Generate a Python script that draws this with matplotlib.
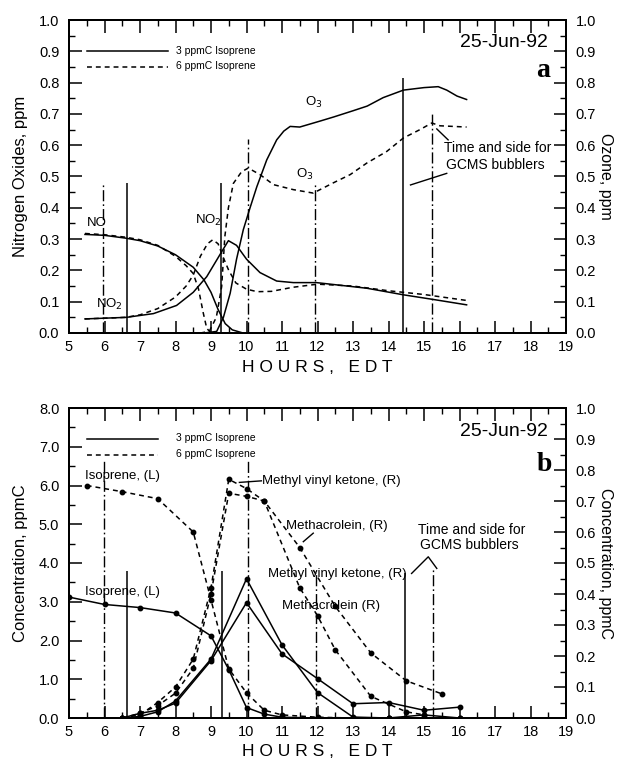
import matplotlib
matplotlib.use("Agg")
import matplotlib.pyplot as plt
from matplotlib.ticker import MultipleLocator, FormatStrFormatter

plt.rcParams['font.family'] = ['Liberation Sans', 'DejaVu Sans']

# ---------------- Panel a data (hours EDT, ppm) ----------------
no_3_t = [5.45, 6.0, 6.6, 7.0, 7.5, 8.0, 8.5, 8.8, 9.0, 9.2, 9.4, 9.6, 9.9, 10.3]
no_3 = [0.315, 0.312, 0.303, 0.295, 0.278, 0.25, 0.21, 0.17, 0.13, 0.075, 0.03, 0.01, 0.0, 0.0]
no_6_t = [5.45, 6.0, 6.6, 7.0, 7.5, 8.0, 8.3, 8.5, 8.65, 8.78, 8.88, 9.0]
no_6 = [0.318, 0.314, 0.306, 0.298, 0.28, 0.245, 0.215, 0.19, 0.14, 0.065, 0.015, 0.0]

no2_3_t = [5.45, 6.62, 7.38, 8.03, 8.5, 8.88, 9.25, 9.49, 9.72, 10.0, 10.38, 10.85, 11.32,
           11.97, 13.39, 14.42, 15.27, 16.2]
no2_3 = [0.045, 0.05, 0.062, 0.088, 0.13, 0.18, 0.25, 0.295, 0.28, 0.236, 0.193, 0.166, 0.161,
         0.161, 0.143, 0.122, 0.107, 0.09]
no2_6_t = [5.45, 6.6, 7.0, 7.5, 8.0, 8.3, 8.5, 8.7, 8.9, 9.05, 9.2, 9.35, 9.5, 9.7, 10.0,
           10.3, 10.7, 11.3, 12.0, 13.0, 14.0, 15.0, 16.2]
no2_6 = [0.045, 0.05, 0.058, 0.078, 0.115, 0.15, 0.185, 0.245, 0.285, 0.298, 0.285, 0.24,
         0.2, 0.16, 0.14, 0.132, 0.133, 0.146, 0.156, 0.15, 0.135, 0.123, 0.104]

o3_3_t = [8.8, 9.16, 9.35, 9.54, 9.72, 9.91, 10.1, 10.29, 10.57, 10.85, 11.05, 11.23, 11.5,
          12.07, 12.45, 13.0, 13.4, 13.85, 14.42, 15.0, 15.4, 15.64, 15.93, 16.2]
o3_3 = [0.0, 0.005, 0.05, 0.127, 0.236, 0.33, 0.40, 0.467, 0.553, 0.617, 0.645, 0.66, 0.658,
        0.677, 0.69, 0.71, 0.725, 0.752, 0.776, 0.784, 0.787, 0.776, 0.757, 0.746]
o3_6_t = [8.7, 8.95, 9.15, 9.3, 9.39, 9.49, 9.63, 9.86, 10.05, 10.38, 10.76, 11.32, 11.88,
          12.45, 12.92, 13.39, 13.95, 14.42, 14.89, 15.22, 15.45, 16.2]
o3_6 = [0.0, 0.005, 0.05, 0.148, 0.308, 0.40, 0.478, 0.515, 0.527, 0.506, 0.474, 0.458, 0.447,
        0.48, 0.506, 0.543, 0.58, 0.623, 0.65, 0.671, 0.662, 0.658]

# GCMS bubbler sampling times (panel a): (time, top in ppm)
a_solid_t = [6.62, 9.28, 14.42]
a_solid_top = [0.48, 0.48, 0.815]
a_dd_t = [5.95, 10.05, 11.93, 15.22]
a_dd_top = [0.48, 0.62, 0.48, 0.705]

# ---------------- Panel b data ----------------
iso_3_t = [5.0, 6.0, 7.0, 8.0, 9.0, 9.5, 10.0, 10.5, 11.0, 12.0, 13.0, 14.0, 15.0, 16.0]
iso_3 = [3.12, 2.93, 2.85, 2.71, 2.12, 1.25, 0.27, 0.1, 0.02, 0.0, 0.0, 0.0, 0.0, 0.0]
iso_6_t = [5.5, 6.5, 7.5, 8.5, 9.0, 9.5, 10.0, 10.5, 11.0, 12.0, 13.0, 14.0, 15.0]
iso_6 = [6.0, 5.84, 5.66, 4.8, 3.05, 1.27, 0.65, 0.2, 0.08, 0.02, 0.0, 0.0, 0.0]

mvk_3_t = [6.5, 7.0, 7.5, 8.0, 9.0, 10.0, 11.0, 12.0, 13.0, 14.0, 15.0, 16.0]
mvk_3 = [0.0, 0.005, 0.02, 0.055, 0.19, 0.449, 0.236, 0.082, 0.003, 0.0, 0.01, 0.0]
macr_3_t = [6.5, 7.0, 7.5, 8.0, 9.0, 10.0, 11.0, 12.0, 13.0, 14.0, 15.0, 16.0]
macr_3 = [0.0, 0.015, 0.025, 0.048, 0.185, 0.372, 0.207, 0.127, 0.046, 0.05, 0.025, 0.035]

mvk_6_t = [6.5, 7.0, 7.5, 8.0, 8.5, 9.0, 9.5, 10.0, 10.5, 11.5, 12.0, 12.5, 13.5, 14.5, 15.0]
mvk_6 = [0.0, 0.01, 0.05, 0.1, 0.19, 0.42, 0.77, 0.74, 0.70, 0.42, 0.33, 0.22, 0.07, 0.02, 0.01]
macr_6_t = [6.5, 7.0, 7.5, 8.0, 8.5, 9.0, 9.5, 10.0, 10.5, 11.5, 12.5, 13.5, 14.5, 15.5]
macr_6 = [0.0, 0.015, 0.04, 0.08, 0.16, 0.40, 0.725, 0.715, 0.70, 0.55, 0.36, 0.21, 0.12, 0.078]

b_solid_t = [6.62, 9.3, 14.46]
b_solid_top = [3.8, 3.8, 3.75]
b_dd_t = [5.98, 10.05, 11.96, 15.26]
b_dd_top = [6.65, 6.65, 3.8, 3.9]

x_ticks = list(range(5, 20))

W, H = 617, 762
fig = plt.figure(figsize=(W / 100, H / 100), dpi=100)

LW = 1.1
DASH = (0, (3.2, 2.6))
DD = (0, (8, 2.2, 1.2, 2.2))
TXT = 9.5


def style_axes(ax, ax2, ymax, major, minor, fmt):
    ax.set_xlim(5, 19)
    ax.set_ylim(0, ymax)
    ax2.set_ylim(0, 1.0)
    ax.xaxis.set_major_locator(MultipleLocator(1))
    ax.xaxis.set_minor_locator(MultipleLocator(0.5))
    ax.yaxis.set_major_locator(MultipleLocator(major))
    ax.yaxis.set_minor_locator(MultipleLocator(minor))
    ax.yaxis.set_major_formatter(FormatStrFormatter(fmt))
    ax2.yaxis.set_major_locator(MultipleLocator(0.1))
    ax2.yaxis.set_minor_locator(MultipleLocator(0.05))
    ax2.yaxis.set_major_formatter(FormatStrFormatter('%.1f'))
    ax.set_xticks(x_ticks)
    ax.set_xticklabels([str(v) for v in x_ticks])
    ax.tick_params(axis='x', which='both', direction='in', top=True, bottom=True,
                   labelsize=10.5, pad=5)
    ax.tick_params(axis='y', which='both', direction='in', left=True, right=False,
                   labelsize=10.5, pad=7)
    ax2.tick_params(axis='y', which='both', direction='in', right=True,
                    labelsize=10.5, pad=7)
    for a in (ax, ax2):
        a.tick_params(which='major', length=9, width=1.1)
        a.tick_params(which='minor', length=4, width=1.0)
        for s in a.spines.values():
            s.set_linewidth(1.4)
    ax.set_xlabel('H O U R S ,   E D T', fontsize=12.5, labelpad=4)


# ================= Panel a =================
ax = fig.add_axes([69 / W, 1 - 333 / H, 497 / W, 313 / H])
ax2 = ax.twinx()
style_axes(ax, ax2, 1.0, 0.1, 0.05, '%.1f')

ax.plot(no_3_t, no_3, color='k', lw=LW)
ax.plot(no_6_t, no_6, color='k', lw=LW, ls=DASH)
ax.plot(no2_3_t, no2_3, color='k', lw=LW)
ax.plot(no2_6_t, no2_6, color='k', lw=LW, ls=DASH)
ax2.plot(o3_3_t, o3_3, color='k', lw=LW)
ax2.plot(o3_6_t, o3_6, color='k', lw=LW, ls=DASH)

ax.vlines(a_solid_t, 0, a_solid_top, colors='k', lw=1.1)
ax.vlines(a_dd_t, 0, a_dd_top, colors='k', lw=1.0, linestyles=[DD])

# legend
ax.plot([5.5, 7.8], [0.9, 0.9], color='k', lw=LW)
ax.plot([5.5, 7.8], [0.85, 0.85], color='k', lw=LW, ls=DASH)
ax.text(8.0, 0.9, '3 ppmC Isoprene', fontsize=7.5, va='center')
ax.text(8.0, 0.853, '6 ppmC Isoprene', fontsize=7.5, va='center')

ax.text(5.5, 0.35, 'NO', fontsize=TXT, va='center')
ax.text(5.75, 0.092, 'NO$_2$', fontsize=TXT, va='center')
ax.text(8.55, 0.36, 'NO$_2$', fontsize=TXT, va='center')
ax2.text(11.65, 0.735, 'O$_3$', fontsize=TXT, va='center')
ax2.text(11.4, 0.505, 'O$_3$', fontsize=TXT, va='center')

ax.text(15.55, 0.592, 'Time and side for', fontsize=10, va='center')
ax.text(15.62, 0.538, 'GCMS bubblers', fontsize=10, va='center')
ax.plot([15.36, 15.68], [0.652, 0.617], color='k', lw=1.0)
ax.plot([14.62, 15.64], [0.473, 0.51], color='k', lw=1.0)

ax.text(18.5, 0.928, '25-Jun-92', fontsize=14, ha='right', va='center')
ax.text(18.55, 0.84, 'a', fontsize=20, ha='right', va='center', fontweight='bold',
        family=['Liberation Serif', 'DejaVu Serif'])

ax.set_ylabel('Nitrogen Oxides, ppm', fontsize=12, labelpad=8)
fig.text(605 / W, 1 - 176 / H, 'Ozone, ppm', fontsize=11.5, rotation=270,
         ha='center', va='center')

# ================= Panel b =================
bx = fig.add_axes([69 / W, 1 - 718 / H, 497 / W, 310 / H])
bx2 = bx.twinx()
style_axes(bx, bx2, 8.0, 1.0, 0.5, '%.1f')

MS = 3.2
bx.plot(iso_3_t, iso_3, color='k', lw=LW, marker='o', ms=MS)
bx.plot(iso_6_t, iso_6, color='k', lw=LW, ls=DASH, marker='o', ms=MS)
bx2.plot(mvk_3_t, mvk_3, color='k', lw=LW, marker='o', ms=MS)
bx2.plot(macr_3_t, macr_3, color='k', lw=LW, marker='o', ms=MS)
bx2.plot(mvk_6_t, mvk_6, color='k', lw=LW, ls=DASH, marker='o', ms=MS)
bx2.plot(macr_6_t, macr_6, color='k', lw=LW, ls=DASH, marker='o', ms=MS)

bx.vlines(b_solid_t, 0, b_solid_top, colors='k', lw=1.1)
bx.vlines(b_dd_t, 0, b_dd_top, colors='k', lw=1.0, linestyles=[DD])

bx.plot([5.5, 7.5], [7.2, 7.2], color='k', lw=LW)
bx.plot([5.5, 7.5], [6.8, 6.8], color='k', lw=LW, ls=DASH)
bx.text(8.0, 7.22, '3 ppmC Isoprene', fontsize=7.5, va='center')
bx.text(8.0, 6.82, '6 ppmC Isoprene', fontsize=7.5, va='center')

bx.text(5.45, 6.25, 'Isoprene, (L)', fontsize=TXT, va='center')
bx.text(5.45, 3.25, 'Isoprene, (L)', fontsize=TXT, va='center')
bx.text(10.45, 6.12, 'Methyl vinyl ketone, (R)', fontsize=TXT, va='center')
bx.plot([9.8, 10.42], [6.08, 6.12], color='k', lw=1.0)
bx.text(11.1, 4.95, 'Methacrolein, (R)', fontsize=TXT, va='center')
bx.plot([11.6, 11.88], [4.55, 4.77], color='k', lw=1.0)
bx.text(10.6, 3.72, 'Methyl vinyl ketone, (R)', fontsize=TXT, va='center')
bx.text(11.0, 2.88, 'Methacrolein (R)', fontsize=TXT, va='center')

bx.text(14.83, 4.85, 'Time and side for', fontsize=10, va='center')
bx.text(14.9, 4.46, 'GCMS bubblers', fontsize=10, va='center')
bx.plot([14.65, 15.12, 15.36], [3.73, 4.16, 3.86], color='k', lw=1.0)

bx.text(18.5, 7.39, '25-Jun-92', fontsize=14, ha='right', va='center')
bx.text(18.6, 6.55, 'b', fontsize=20, ha='right', va='center', fontweight='bold',
        family=['Liberation Serif', 'DejaVu Serif'])

bx.set_ylabel('Concentration, ppmC', fontsize=12, labelpad=8)
fig.text(605 / W, 1 - 563 / H, 'Concentration, ppmC', fontsize=11.5, rotation=270,
         ha='center', va='center')

fig.savefig('out.png', dpi=100)
